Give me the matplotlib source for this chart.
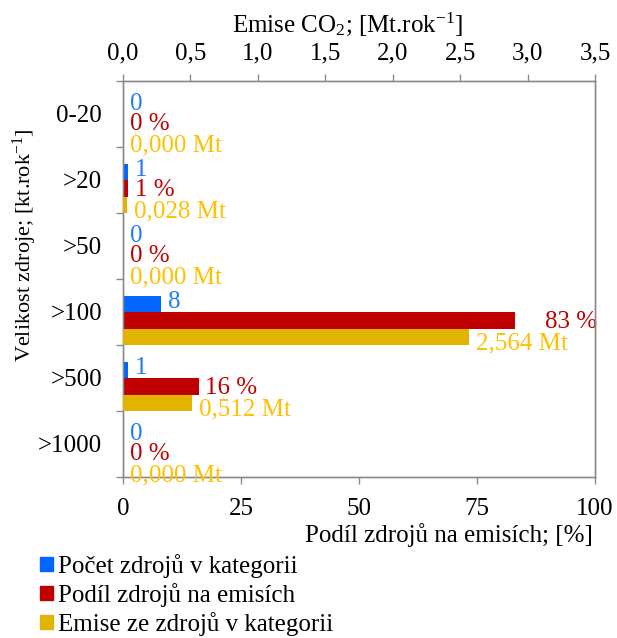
import matplotlib
matplotlib.use("Agg")
import matplotlib.pyplot as plt
from matplotlib.patches import Patch
from matplotlib.ticker import FixedLocator, FuncFormatter

categories = ["0-20", ">20", ">50", ">100", ">500", ">1000"]
count_sources = [0, 1, 0, 8, 1, 0]
share_pct = [0, 1, 0, 83, 16, 0]
emissions_mt = [0.000, 0.028, 0.000, 2.564, 0.512, 0.000]
bottom_ticks = [0, 25, 50, 75, 100]
top_ticks = [0.0, 0.5, 1.0, 1.5, 2.0, 2.5, 3.0, 3.5]
legend_labels = ["Počet zdrojů v kategorii", "Podíl zdrojů na emisích", "Emise ze zdrojů v kategorii"]

plt.rcParams["font.family"] = ["Liberation Serif", "DejaVu Serif"]
plt.rcParams["mathtext.fontset"] = "custom"
plt.rcParams["mathtext.rm"] = "Liberation Serif"
plt.rcParams["mathtext.it"] = "Liberation Serif:italic"

FS = 18
BLUE_BAR, BLUE_TXT = "#0066FF", "#1E7BFF"
RED_BAR, RED_TXT = "#C00000", "#C00000"
GOLD_BAR, GOLD_TXT = "#E0B400", "#FFC000"
SPINE = "#8A8A8A"

W, H = 617, 638
fig = plt.figure(figsize=(W / 100, H / 100), dpi=100)
ax = fig.add_axes([123 / W, 1 - 477 / H, (595 - 123) / W, (477 - 81) / H])
ax2 = ax.twiny()

idx = list(range(len(categories)))
bh = 0.25
y_blue = [i - 0.125 for i in idx]
y_red = [i + 0.125 for i in idx]
y_gold = [i + 0.375 for i in idx]

ax.barh(y_blue, count_sources, height=bh, color=BLUE_BAR, zorder=3)
ax.barh(y_red, share_pct, height=bh, color=RED_BAR, zorder=3)
ax2.barh(y_gold, emissions_mt, height=bh, color=GOLD_BAR, zorder=3)

ax.set_xlim(0, 100)
ax2.set_xlim(0, 3.5)
ax.set_ylim(len(categories) - 0.5, -0.5)

# value labels
off = 5  # points
for i in idx:
    ax.annotate(f"{count_sources[i]}", (count_sources[i], y_blue[i]), xytext=(off, 1),
                textcoords="offset points", ha="left", va="center", color=BLUE_TXT, fontsize=FS)
    extra = 17 if share_pct[i] == max(share_pct) else 0
    ax.annotate(f"{share_pct[i]} %", (share_pct[i], y_red[i]), xytext=(off + extra, -1),
                textcoords="offset points", ha="left", va="center", color=RED_TXT, fontsize=FS)
    ax2.annotate(f"{emissions_mt[i]:.3f}".replace(".", ",") + " Mt", (emissions_mt[i], y_gold[i]),
                 xytext=(off, -5), textcoords="offset points", ha="left", va="center",
                 color=GOLD_TXT, fontsize=FS)

# y axis: ticks at category boundaries, labels at centers
ax.yaxis.set_major_locator(FixedLocator([i - 0.5 for i in range(len(categories) + 1)]))
ax.yaxis.set_major_formatter(FuncFormatter(lambda v, p: ""))
ax.yaxis.set_minor_locator(FixedLocator(idx))
ax.set_yticklabels(categories, minor=True)
ax.tick_params(axis="y", which="major", direction="out", length=5, color=SPINE, width=1)
ax.tick_params(axis="y", which="minor", length=0, pad=15, labelsize=FS)

ax.xaxis.set_major_locator(FixedLocator(bottom_ticks))
ax.tick_params(axis="x", direction="out", length=5, color=SPINE, width=1, pad=10, labelsize=FS)
ax2.xaxis.set_major_locator(FixedLocator(top_ticks))
ax2.xaxis.set_major_formatter(FuncFormatter(lambda v, p: f"{v:.1f}".replace(".", ",")))
ax2.tick_params(axis="x", direction="out", length=5, color=SPINE, width=1, pad=7, labelsize=FS)

for a in (ax, ax2):
    for s in a.spines.values():
        s.set_color(SPINE)
        s.set_linewidth(1)

fig.text(348 / W, 1 - 24 / H, "Emise CO$_2$; [Mt.rok$^{-1}$]", ha="center", va="center", fontsize=FS)
fig.text(593 / W, 1 - 535 / H, "Podíl zdrojů na emisích; [%]", ha="right", va="center", fontsize=FS)
fig.text(25 / W, 1 - 245 / H, "Velikost zdroje; [kt.rok$^{-1}$]", ha="center", va="center",
         rotation=90, fontsize=16)

handles = [Patch(color=BLUE_BAR), Patch(color=RED_BAR), Patch(color=GOLD_BAR)]
fig.legend(handles, legend_labels, loc="upper left", bbox_to_anchor=(40 / W, 1 - 554 / H),
           frameon=False, fontsize=FS, handlelength=0.5, handleheight=0.5,
           handletextpad=0.2, labelspacing=0.2, borderpad=0, borderaxespad=0)

fig.savefig("out.png", dpi=100)
